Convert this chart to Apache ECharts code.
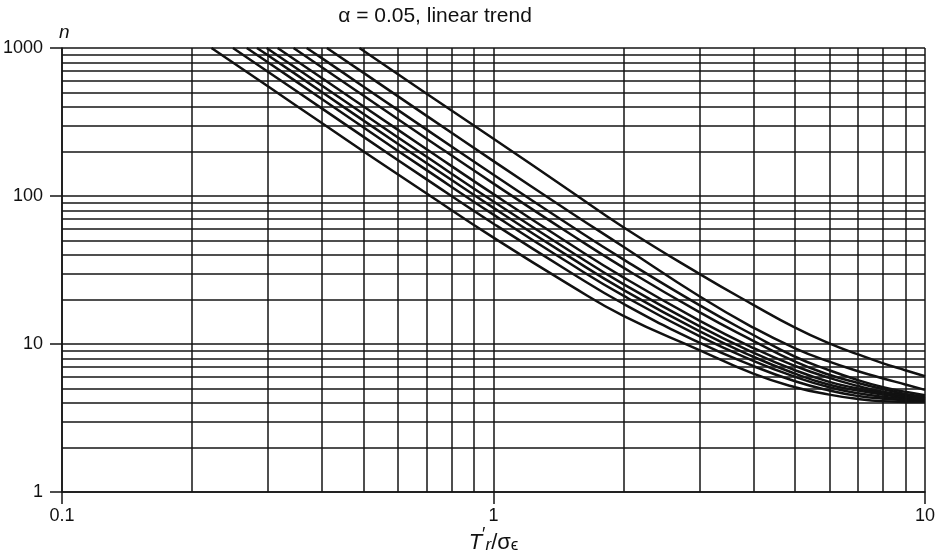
<!DOCTYPE html>
<html>
<head>
<meta charset="utf-8">
<script src="https://cdn.jsdelivr.net/npm/echarts@6/dist/echarts.min.js"></script>
<style>
  html, body { margin: 0; padding: 0; background: #fff; }
  #chart { width: 948px; height: 557px; }
</style>
</head>
<body>
<div id="chart"></div>
<script>
  // tick values (decades) and the in-between grid lines
  const xTicks = [0.1, 1, 10]
  const yTicks = [1, 10, 100, 1000]
  const xMinor = [0.2, 0.3, 0.4, 0.5, 0.6, 0.7, 0.8, 0.9, 2, 3, 4, 5, 6, 7, 8, 9]
  const yMinor = [2, 3, 4, 5, 6, 7, 8, 9, 20, 30, 40, 50, 60, 70, 80, 90, 200, 300, 400, 500, 600, 700, 800, 900]

  // curves, lowest first
  const x1 = [0.222, 0.3, 0.4, 0.5, 0.7, 1, 1.5, 2, 3, 4, 5, 6, 7, 8, 9, 10]
  const n1 = [1000, 551, 311, 200, 104, 52.3, 25.1, 15.5, 9.1, 6.3, 5.1, 4.55, 4.25, 4.1, 4.06, 4.05]
  const x2 = [0.249, 0.3, 0.4, 0.5, 0.7, 1, 1.5, 2, 3, 4, 5, 6, 7, 8, 9, 10]
  const n2 = [1000, 692, 391, 251, 129.5, 65, 30.8, 18.7, 10.2, 7.1, 5.6, 4.85, 4.45, 4.27, 4.17, 4.1]
  const x3 = [0.268, 0.3, 0.4, 0.5, 0.7, 1, 1.5, 2, 3, 4, 5, 6, 7, 8, 9, 10]
  const n3 = [1000, 801, 452, 290, 149.5, 74.8, 35.1, 21.2, 11.3, 7.7, 6.0, 5.1, 4.65, 4.4, 4.25, 4.15]
  const x4 = [0.283, 0.3, 0.4, 0.5, 0.7, 1, 1.5, 2, 3, 4, 5, 6, 7, 8, 9, 10]
  const n4 = [1000, 893, 504, 323, 166.5, 83.1, 38.8, 23.2, 12.2, 8.2, 6.3, 5.3, 4.85, 4.55, 4.35, 4.2]
  const x5 = [0.298, 0.4, 0.5, 0.7, 1, 1.5, 2, 3, 4, 5, 6, 7, 8, 9, 10]
  const n5 = [1000, 558, 358, 184, 91.8, 42.7, 25.4, 13.2, 8.75, 6.65, 5.55, 5.0, 4.65, 4.4, 4.25]
  const x6 = [0.316, 0.4, 0.5, 0.7, 1, 1.5, 2, 3, 4, 5, 6, 7, 8, 9, 10]
  const n6 = [1000, 627, 403, 207, 102.9, 47.6, 28.2, 14.4, 9.4, 7.1, 5.9, 5.2, 4.75, 4.5, 4.3]
  const x7 = [0.344, 0.4, 0.5, 0.7, 1, 1.5, 2, 3, 4, 5, 6, 7, 8, 9, 10]
  const n7 = [1000, 742, 476, 244, 121.3, 55.8, 32.8, 16.4, 10.5, 7.6, 6.2, 5.45, 4.95, 4.6, 4.4]
  const x8 = [0.369, 0.4, 0.5, 0.7, 1, 1.5, 2, 3, 4, 5, 6, 7, 8, 9, 10]
  const n8 = [1000, 854, 548, 281, 139.2, 63.7, 37.3, 18.3, 11.5, 8.2, 6.65, 5.7, 5.1, 4.75, 4.5]
  const x9 = [0.411, 0.5, 0.7, 1, 1.5, 2, 3, 4, 5, 6, 7, 8, 9, 10]
  const n9 = [1000, 679, 348, 172, 78.3, 45.4, 21.0, 12.9, 9.35, 7.6, 6.55, 5.85, 5.33, 4.9]
  const x10 = [0.489, 0.7, 1, 1.5, 2, 3, 4, 5, 6, 7, 8, 9, 10]
  const n10 = [1000, 491, 244, 109, 61.5, 29.8, 18.4, 12.9, 10.1, 8.5, 7.4, 6.65, 6.05]

  const curveX = [x1, x2, x3, x4, x5, x6, x7, x8, x9, x10]
  const curveN = [n1, n2, n3, n4, n5, n6, n7, n8, n9, n10]

  const font = '"Liberation Sans", Arial, Helvetica, sans-serif'
  const gridColor = '#151515'

  const chart = echarts.init(document.getElementById('chart'))

  const curveSeries = curveX.map((xs, i) => ({
    type: 'line',
    smooth: 0.5,
    symbol: 'none',
    silent: true,
    lineStyle: { color: '#111', width: 2.5 },
    data: xs.map((x, j) => [x, curveN[i][j]])
  }))

  // in-between grid lines drawn through the axes' own scales
  const gridSeries = {
    type: 'line',
    data: [],
    silent: true,
    markLine: {
      silent: true,
      animation: false,
      symbol: ['none', 'none'],
      label: { show: false },
      lineStyle: { color: gridColor, width: 1.5, type: 'solid' },
      emphasis: { disabled: true },
      data: xMinor.map(v => ({ xAxis: v })).concat(yMinor.map(v => ({ yAxis: v })))
    }
  }

  const option = {
    animation: false,
    title: {
      text: 'α = 0.05, linear trend',
      left: 430,
      textAlign: 'center',
      top: 1,
      textStyle: { fontFamily: font, fontSize: 21, fontWeight: 'normal', color: '#111' }
    },
    grid: { left: 62, right: 23, top: 48, bottom: 65, outerBoundsMode: 'none' },
    xAxis: {
      type: 'log',
      logBase: 10,
      min: xTicks[0],
      max: xTicks[xTicks.length - 1],
      name: '{t|T}{p|′}{r|r}{s|/σ}{e|ϵ}',
      nameLocation: 'middle',
      nameMoveOverlap: false,
      nameGap: 34,
      nameTextStyle: {
        rich: {
          t: { fontFamily: font, fontSize: 22, fontStyle: 'italic', color: '#111', verticalAlign: 'bottom', lineHeight: 28 },
          p: { fontFamily: font, fontSize: 18, color: '#111', verticalAlign: 'top', lineHeight: 28 },
          r: { fontFamily: font, fontSize: 17, fontStyle: 'italic', color: '#111', verticalAlign: 'bottom', lineHeight: 20 },
          s: { fontFamily: font, fontSize: 22, color: '#111', verticalAlign: 'bottom', lineHeight: 28 },
          e: { fontFamily: font, fontSize: 17, color: '#111', verticalAlign: 'bottom', lineHeight: 20 }
        }
      },
      axisLine: { lineStyle: { color: gridColor, width: 1.5 } },
      axisTick: { show: true, inside: false, length: 12, lineStyle: { color: gridColor, width: 1.5 } },
      axisLabel: {
        margin: 15,
        fontFamily: font,
        fontSize: 18,
        color: '#111',
        formatter: v => String(v)
      },
      splitLine: { show: true, lineStyle: { color: gridColor, width: 1.5 } }
    },
    yAxis: {
      type: 'log',
      logBase: 10,
      min: yTicks[0],
      max: yTicks[yTicks.length - 1],
      name: 'n',
      nameLocation: 'end',
      nameGap: 6,
      nameTextStyle: { fontFamily: font, fontSize: 19, fontStyle: 'italic', color: '#111', align: 'left', padding: [0, 0, 0, -3] },
      axisLine: { show: true, lineStyle: { color: gridColor, width: 1.5 } },
      axisTick: { show: true, inside: false, length: 12, lineStyle: { color: gridColor, width: 1.5 } },
      axisLabel: {
        margin: 19,
        fontFamily: font,
        fontSize: 18,
        color: '#111',
        formatter: v => String(v)
      },
      splitLine: { show: true, lineStyle: { color: gridColor, width: 1.5 } }
    },
    series: [gridSeries].concat(curveSeries)
  }

  chart.setOption(option)
</script>
</body>
</html>
